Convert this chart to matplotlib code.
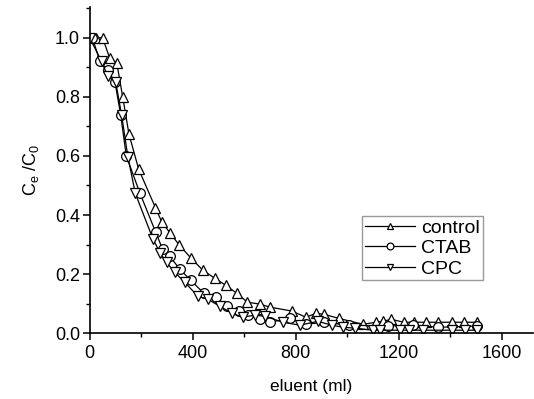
import matplotlib
matplotlib.use("Agg")
import matplotlib.pyplot as plt
from matplotlib.ticker import MultipleLocator

plt.rcParams['font.family'] = ['Liberation Sans', 'DejaVu Sans']
plt.rcParams['mathtext.fontset'] = 'custom'
plt.rcParams['mathtext.rm'] = 'Liberation Sans'
plt.rcParams['mathtext.it'] = 'Liberation Sans'

# control (up triangles)
ctrl_x = [25, 50, 78, 105, 128, 152, 190, 255, 280, 311, 346, 392, 439, 485, 528,
          571, 612, 662, 700, 784, 839, 878, 909, 967, 1060, 1111, 1138, 1169,
          1219, 1258, 1305, 1351, 1406, 1452, 1503]
ctrl_y = [1.0, 1.0, 0.93, 0.915, 0.80, 0.675, 0.555, 0.425, 0.376, 0.34, 0.30, 0.255,
          0.213, 0.186, 0.162, 0.135, 0.105, 0.098, 0.088, 0.075, 0.054, 0.067, 0.064,
          0.05, 0.03, 0.037, 0.04, 0.047, 0.037, 0.037, 0.037, 0.037, 0.037, 0.037, 0.037]

# CTAB (circles)
ctab_x = [10, 40, 70, 98, 120, 142, 194, 256, 283, 311, 350, 392, 443, 489, 532, 579,
          614, 660, 700, 777, 839, 909, 1006, 1157, 1254, 1351, 1503]
ctab_y = [1.0, 0.92, 0.89, 0.85, 0.74, 0.60, 0.476, 0.342, 0.284, 0.26, 0.216, 0.179,
          0.135, 0.122, 0.091, 0.074, 0.061, 0.047, 0.037, 0.05, 0.03, 0.037, 0.027,
          0.024, 0.027, 0.02, 0.024]

# CPC (down triangles)
cpc_x = [0, 46, 70, 101, 124, 148, 177, 245, 274, 298, 330, 369, 420, 458, 505, 551,
         594, 641, 680, 750, 815, 885, 940, 983, 1029, 1099, 1126, 1204, 1239, 1293,
         1406, 1456, 1503]
cpc_y = [1.0, 0.92, 0.87, 0.85, 0.737, 0.598, 0.473, 0.32, 0.27, 0.24, 0.206, 0.172,
         0.125, 0.115, 0.091, 0.068, 0.054, 0.061, 0.057, 0.037, 0.027, 0.04, 0.027,
         0.02, 0.017, 0.01, 0.01, 0.01, 0.01, 0.01, 0.01, 0.01, 0.01]

fig = plt.figure(figsize=(5.34, 3.99), dpi=100)
ax = fig.add_axes([0.168, 0.165, 0.830, 0.818])

style = dict(color='black', lw=0.9, ms=7, mfc='white', mec='black', mew=0.9)
ax.plot(ctrl_x, ctrl_y, marker='^', label='control', **style)
ax.plot(ctab_x, ctab_y, marker='o', label='CTAB', **style)
ax.plot(cpc_x, cpc_y, marker='v', label='CPC', **style)

ax.set_xlim(0, 1720)
ax.set_ylim(0, 1.105)
ax.xaxis.set_major_locator(MultipleLocator(400))
ax.xaxis.set_minor_locator(MultipleLocator(200))
ax.yaxis.set_major_locator(MultipleLocator(0.2))
ax.yaxis.set_minor_locator(MultipleLocator(0.1))
ax.yaxis.set_major_formatter(plt.FormatStrFormatter('%.1f'))

for s in ['top', 'right']:
    ax.spines[s].set_visible(False)
for s in ['left', 'bottom']:
    ax.spines[s].set_linewidth(1.2)

ax.tick_params(which='major', direction='out', length=5, width=1.1, labelsize=13)
ax.tick_params(axis='y', which='major', pad=2)
ax.tick_params(which='minor', direction='out', length=3, width=1.0)

ax.set_xlabel('eluent (ml)', fontsize=12.5, labelpad=12)
ax.set_ylabel('C$_e$ /C$_0$', fontsize=13, labelpad=10)

leg = ax.legend(loc='upper left', bbox_to_anchor=(0.614, 0.359), fontsize=14,
                frameon=True, fancybox=False, edgecolor='gray', handlelength=2.6,
                handletextpad=0.3, borderpad=0.15, labelspacing=0.15, borderaxespad=0,
                markerscale=0.7)
leg.get_frame().set_linewidth(1.0)

fig.savefig('out.png', dpi=100)
